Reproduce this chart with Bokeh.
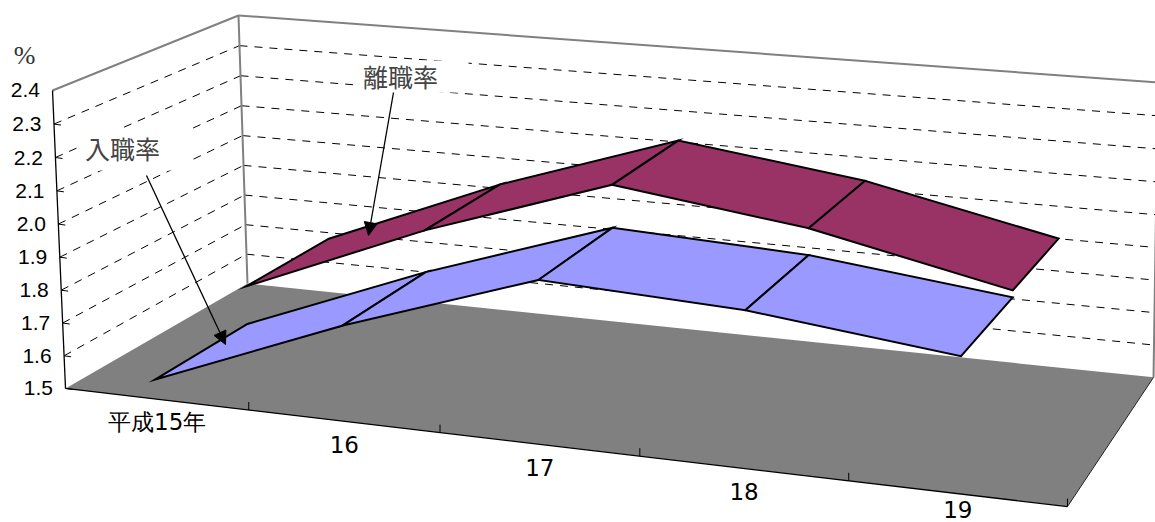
import numpy as np
from bokeh.plotting import figure
from bokeh.embed import file_html
from bokeh.resources import INLINE
from bokeh.core.properties import value
from bokeh.models import Arrow, NormalHead

# ---- data ----
categories = ["平成15年", "16", "17", "18", "19"]
hire_rate = [1.56, 1.78, 1.97, 1.94, 1.87]      # 入職率
leave_rate = [1.68, 1.91, 2.10, 2.02, 1.89]     # 離職率
value_ticks = [1.5, 1.6, 1.7, 1.8, 1.9, 2.0, 2.1, 2.2, 2.3, 2.4]
value_labels = ["1.5", "1.6", "1.7", "1.8", "1.9", "2.0", "2.1", "2.2", "2.3", "2.4"]
V_MIN, V_MAX = 1.5, 2.4

# ---- a perspective camera fitted to the visible corners of the 3-D box ----
# (category position, value, depth) -> page pixel
corners = [((0, 1.5, 0), (65, 388)), ((5, 1.5, 0), (1067, 506)), ((5, 1.5, 1), (1153, 377)),
           ((0, 1.5, 1), (247, 283)), ((0, 2.4, 0), (52, 90)), ((0, 2.4, 1), (238, 15)),
           ((5, 2.4, 1), (1157.5, 82))]
A = []
for (u, v, w), (x, y) in corners:
    X = [u, (v - V_MIN) / (V_MAX - V_MIN), w, 1]
    A.append(X + [0, 0, 0, 0] + [-x * c for c in X])
    A.append([0, 0, 0, 0] + X + [-y * c for c in X])
P = np.linalg.svd(np.array(A, float))[2][-1].reshape(3, 4)


def proj(u, v, w):
    h = P @ np.array([u, (v - V_MIN) / (V_MAX - V_MIN), w, 1.0])
    return h[0] / h[2], h[1] / h[2]


def seg(a, b):
    pa, pb = proj(*a), proj(*b)
    return [pa[0], pb[0]], [pa[1], pb[1]]


p = figure(width=1155, height=522, x_range=(0, 1155), y_range=(522, 0),
           x_axis_type=None, y_axis_type=None, output_backend="svg",
           toolbar_location=None, min_border=0, outline_line_color=None)
p.grid.visible = False

WALL = "#808080"
# floor
fl = [proj(0, V_MIN, 0), proj(5, V_MIN, 0), proj(5, V_MIN, 1), proj(0, V_MIN, 1)]
p.patch([c[0] for c in fl], [c[1] for c in fl], fill_color=WALL, line_color=None)

# gridlines on both walls
for t in value_ticks[1:-1]:
    xs, ys = seg((0, t, 0), (0, t, 1))
    p.line(xs, ys, line_color="#000000", line_width=1, line_dash="8 7")
    xs, ys = seg((0, t, 1), (5, t, 1))
    p.line(xs, ys, line_color="#000000", line_width=1, line_dash="8 7")

# label backgrounds hide the gridlines
p.quad(left=[78, 353], right=[190, 468], top=[128, 60], bottom=[170, 92],
       fill_color="#ffffff", line_color=None)

# wall edges
for a, b in [((0, V_MAX, 0), (0, V_MAX, 1)), ((0, V_MAX, 1), (5, V_MAX, 1)),
             ((0, V_MIN, 1), (0, V_MAX, 1)), ((5, V_MIN, 1), (5, V_MAX, 1))]:
    xs, ys = seg(a, b)
    p.line(xs, ys, line_color=WALL, line_width=2)

# axes
xs, ys = seg((0, V_MIN, 0), (0, V_MAX, 0))
p.line(xs, ys, line_color="#000000", line_width=1.3)
xs, ys = seg((0, V_MIN, 0), (5, V_MIN, 0))
p.line(xs, ys, line_color="#000000", line_width=1.3)
xs, ys = seg((5, V_MIN, 0), (5, V_MIN, 1))
p.line(xs, ys, line_color="#222222", line_width=1)
for t in value_ticks[:-1]:
    x0, y0 = proj(0, t, 0)
    p.line([x0, x0 + 7], [y0, y0 + 1], line_color="#000000", line_width=1)
for i in range(1, 6):
    x0, y0 = proj(i, V_MIN, 0)
    p.line([x0, x0], [y0, y0 - 8], line_color="#000000", line_width=1)


def ribbon(vals, w0, w1, color):
    drift = 0.008  # the ribbons sit slightly further back towards the right
    for i in range(len(vals) - 1):
        a, b = w0 + drift * i, w1 + drift * i
        c_, d = w0 + drift * (i + 1), w1 + drift * (i + 1)
        q = [proj(i + .5, vals[i], a), proj(i + .5, vals[i], b),
             proj(i + 1.5, vals[i + 1], d), proj(i + 1.5, vals[i + 1], c_)]
        p.patch([c[0] for c in q] + [q[0][0]], [c[1] for c in q] + [q[0][1]],
                fill_color=color, line_color="#000000", line_width=2, line_join="miter")


ribbon(leave_rate, 0.5, 1.0, "#993366")
ribbon(hire_rate, 0.0, 0.5, "#9999FF")

# tick labels
lx, ly = [], []
for t in value_ticks:
    x0, y0 = proj(0, t, 0)
    lx.append(x0 - 12.5)
    ly.append(y0)
p.text(lx, ly, text=value_labels, text_align="right", text_baseline="middle",
       text_font=value("Liberation Sans"), text_font_size="21px", text_color="#000000")

cx, cy = [], []
for i in range(len(categories)):
    x0, y0 = proj(i + .5, V_MIN, 0)
    cx.append(x0 + 1)
    cy.append(min(y0 + 23, 509))
p.text(cx, cy, text=categories, text_align="center", text_baseline="middle",
       text_font=value("DejaVu Sans"), text_font_size="23px", text_color="#000000")

# annotations
p.text([24], [55], text=["%"], text_align="center", text_baseline="middle",
       text_font=value("Liberation Serif"), text_font_size="26px", text_color="#333333")
p.text([400, 122], [75, 147], text=["離職率", "入職率"], text_align="center", text_baseline="middle",
       text_font=value("Noto Sans CJK JP"), text_font_size="25px", text_color="#444444")
for (x0, y0, x1, y1) in [(393, 92, 368, 235), (146, 175, 225, 344)]:
    p.add_layout(Arrow(end=NormalHead(size=13, fill_color="#000000", line_color="#000000"),
                       x_start=x0, y_start=y0, x_end=x1, y_end=y1,
                       line_color="#000000", line_width=1.3))

open("out.html", "w").write(file_html(p, INLINE))
